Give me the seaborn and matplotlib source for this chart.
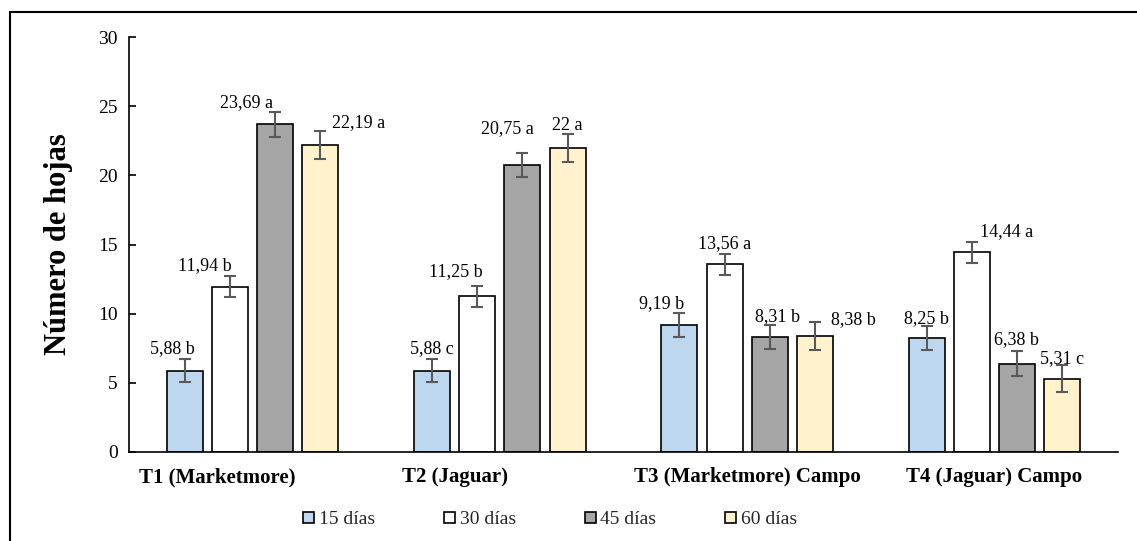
import numpy as np
import pandas as pd
import matplotlib
matplotlib.use("Agg")
import matplotlib.pyplot as plt
import matplotlib.transforms as mtransforms
from matplotlib.patches import Rectangle
import seaborn as sns

# ---------------- data ----------------
categories = ["T1 (Marketmore)", "T2 (Jaguar)", "T3 (Marketmore) Campo", "T4 (Jaguar) Campo"]
series = ["15 días", "30 días", "45 días", "60 días"]
v15 = [5.88, 5.88, 9.19, 8.25]
v30 = [11.94, 11.25, 13.56, 14.44]
v45 = [23.69, 20.75, 8.31, 6.38]
v60 = [22.19, 22.00, 8.38, 5.31]
e15 = [0.85, 0.85, 0.85, 0.85]
e30 = [0.75, 0.75, 0.75, 0.75]
e45 = [0.90, 0.90, 0.90, 0.90]
e60 = [1.00, 1.00, 1.00, 1.00]
lab15 = ["5,88 b", "5,88 c", "9,19 b", "8,25 b"]
lab30 = ["11,94 b", "11,25 b", "13,56 a", "14,44 a"]
lab45 = ["23,69 a", "20,75 a", "8,31 b", "6,38 b"]
lab60 = ["22,19 a", "22 a", "8,38 b", "5,31 c"]
yticks = [0, 5, 10, 15, 20, 25, 30]

# ---------------- style / layout ----------------
colors = ["#BDD7EE", "#FFFFFF", "#A5A5A5", "#FFF2CC"]
# label offsets in pixels (dx from bar centre, dy above error-bar top)
dx15 = [-13, 0, -18, 0];   dy15 = [10, 10, 10, 8]
dx30 = [-25, -22, 0, 35];  dy30 = [11, 14, 10, 10]
dx45 = [-29, -15, 8, 0];   dy45 = [9, 24, 8, 12]
dx60 = [38, 0, 39, 0];     dy60 = [9, 8, 3, 6]
cat_label_dx = [-35, -45, 0, 0]  # pixel shift of category labels

values = [v15, v30, v45, v60]
errs = [e15, e30, e45, e60]
labels = [lab15, lab30, lab45, lab60]
dxs = [dx15, dx30, dx45, dx60]
dys = [dy15, dy30, dy45, dy60]

rows = []
for s, vals in zip(series, values):
    for c, v in zip(categories, vals):
        rows.append({"cat": c, "serie": s, "val": v})
df = pd.DataFrame(rows)

sns.set_theme(style="white")
plt.rcParams["font.family"] = ["Liberation Serif", "DejaVu Serif"]

fig = plt.figure(figsize=(11.37, 5.41), dpi=100)
ax = fig.add_axes([129 / 1137, 1 - 452 / 541, (1118 - 129) / 1137, (452 - 37) / 541])

sns.barplot(data=df, x="cat", y="val", hue="serie", order=categories,
            hue_order=series, palette=colors, edgecolor="black", linewidth=1.2,
            width=0.73, gap=0.2, errorbar=None, ax=ax, saturation=1, legend=True)

# error bars and labels positioned from the drawn bars
bars = [p for p in ax.patches if p.get_height() > 0][:16]
for si in range(4):
    for ci in range(4):
        p = bars[si * 4 + ci]
        xc = p.get_x() + p.get_width() / 2
        top = p.get_height()
        e = errs[si][ci]
        ax.errorbar(xc, top, yerr=e, fmt="none", ecolor="#595959",
                    elinewidth=1.5, capsize=4, capthick=1.5, zorder=5)
        ax.annotate(labels[si][ci], xy=(xc, top + e),
                    xytext=(dxs[si][ci], dys[si][ci]), textcoords="offset pixels",
                    ha="center", va="center", fontsize=13, color="black")

ax.set_ylim(0, 30)
ax.set_yticks(yticks)
ax.set_yticklabels([str(t) for t in yticks])
ax.set_xlim(-0.5, 3.5)
ax.set_xlabel("")
ax.set_ylabel("Número de hojas", fontsize=22, fontweight="bold", color="black")
ax.yaxis.set_label_coords(-0.057, 0.5)

for side in ["top", "right"]:
    ax.spines[side].set_visible(False)
for side in ["left", "bottom"]:
    ax.spines[side].set_color("black")
    ax.spines[side].set_linewidth(1.2)

ax.tick_params(axis="y", direction="in", length=5, width=1.2, color="black",
               labelsize=14, pad=8, left=True, labelcolor="black")
ax.tick_params(axis="x", length=0, pad=11, labelsize=15, labelcolor="black")
for t, d in zip(ax.get_xticklabels(), cat_label_dx):
    t.set_fontweight("bold")
    t.set_transform(t.get_transform() +
                    mtransforms.ScaledTranslation(d / 100, 0, fig.dpi_scale_trans))

# legend
handles, lbls = ax.get_legend_handles_labels()
ax.get_legend().remove()
fig.legend(handles, lbls, loc="center", bbox_to_anchor=(0.484, 0.039), ncol=4,
           frameon=False, fontsize=14, handlelength=0.55, handleheight=0.55,
           handletextpad=0.25, columnspacing=3.55)

# outer chart frame
fig.patches.append(Rectangle((10 / 1137, -0.2), 1.2, 1.2 - 12 / 541,
                             transform=fig.transFigure, fill=False,
                             edgecolor="black", linewidth=1.5, zorder=0))

fig.savefig("out.png", dpi=100)
